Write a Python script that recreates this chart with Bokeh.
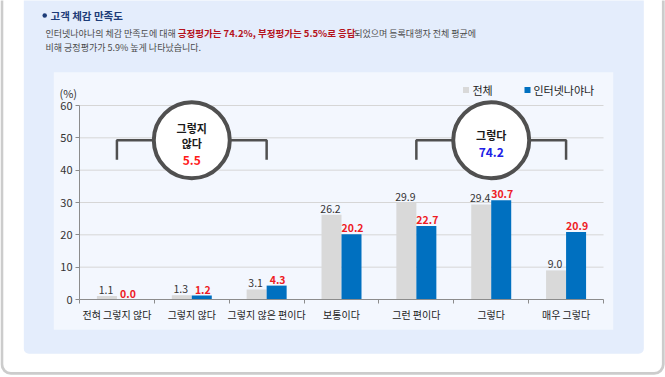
from bokeh.plotting import figure
from bokeh.models import Range1d, LinearAxis, FixedTicker, BoxAnnotation
from bokeh.core.properties import value
from bokeh.embed import file_html
from bokeh.resources import INLINE

# ---------------- data ----------------
categories = ["전혀 그렇지 않다", "그렇지 않다", "그렇지 않은 편이다", "보통이다",
              "그런 편이다", "그렇다", "매우 그렇다"]
total_values = [1.1, 1.3, 3.1, 26.2, 29.9, 29.4, 9.0]       # 전체
company_values = [0.0, 1.2, 4.3, 20.2, 22.7, 30.7, 20.9]    # 인터넷나야나
series_names = ["전체", "인터넷나야나"]
y_ticks = [0, 10, 20, 30, 40, 50, 60]
group_labels = ["그렇지\n않다", "그렇다"]
group_members = [[0, 1, 2], [4, 5, 6]]
group_totals = [5.5, 74.2]

title_text = "고객 체감 만족도"
line1_parts = ["인터넷나야나의 체감 만족도에 대해 ",
               "긍정평가는 74.2%, 부정평가는 5.5%로 응답",
               "되었으며 등록대행자 전체 평균에"]
line2_text = "비해 긍정평가가 5.9% 높게 나타났습니다."

# ---------------- layout constants (reference pixels) ----------------
FONT = "Noto Sans CJK KR"
W, H = 665, 377
OFF = 0
X0_PX, X7_PX = 79.0, 603.0
Y0_PX, Y60_PX = 299.0, 105.0
n = len(categories)
XS = (X7_PX - X0_PX) / n
YS = (Y0_PX - Y60_PX) / 60.0


def dx(px):
    return (px - X0_PX) / XS


def dy(py):
    return (Y0_PX - py) / YS


def est_width(s, size, bold=False):
    w = 0.0
    for ch in s:
        if "\uac00" <= ch <= "\ud7a3":
            w += 0.92
        elif ch.isdigit():
            w += 0.555
        elif ch in ".,":
            w += 0.27
        elif ch == "%":
            w += 0.87
        elif ch == " ":
            w += 0.224
        else:
            w += 0.55
    return w * size * (1.03 if bold else 1.0)


p = figure(width=W, height=H,
           x_range=Range1d(dx(OFF), dx(OFF + W)),
           y_range=Range1d(dy(OFF + H), dy(OFF)),
           x_axis_type=None, y_axis_type=None,
           output_backend="svg", toolbar_location=None,
           min_border=0, outline_line_color=None,
           background_fill_color="white", border_fill_color="white")

# background panels
p.add_layout(BoxAnnotation(left=dx(23.3), right=dx(643.3), top=dy(-30), bottom=dy(353.3),
                           fill_color="#e4edfc", fill_alpha=1, line_color=None,
                           border_radius=5, level="underlay"))
p.add_layout(BoxAnnotation(left=dx(53.3), right=dx(612.7), top=dy(71.7), bottom=dy(329.3),
                           fill_color="#f3f7fe", fill_alpha=1, line_color=None,
                           level="underlay"))
p.add_layout(BoxAnnotation(left=dx(1.4), right=dx(662.8), top=dy(-30),
                           bottom=dy(372.8), fill_color=None,
                           line_color="#555555", line_width=2.8, border_radius=9,
                           level="underlay"))

# grid lines
grid_vals = y_ticks[1:]
p.segment(x0=[0] * len(grid_vals), x1=[n] * len(grid_vals), y0=grid_vals, y1=grid_vals,
          line_color="#d6d6d6", line_width=1)

# bars
centers = [i + 0.5 for i in range(n)]
BW = 20.0 / XS
gx = [c - BW / 2 for c in centers]
bx = [c + BW / 2 for c in centers]
p.vbar(x=gx, top=total_values, width=BW, fill_color="#d9d9d9", line_color=None)
p.vbar(x=bx, top=company_values, width=BW, fill_color="#0070c0", line_color=None)

p.text(x=gx, y=total_values, text=[f"{v:.1f}" for v in total_values],
       text_align="center", text_baseline="bottom", y_offset=-2, x_offset=-1,
       text_font=value(FONT), text_font_size="10.5px", text_color="#333333")
p.text(x=bx, y=company_values, text=[f"{v:.1f}" for v in company_values],
       text_align="center", text_baseline="bottom", y_offset=-2, x_offset=1,
       text_font=value(FONT), text_font_size="10.5px", text_font_style="bold",
       text_color="#ee1c25")

# axes
yaxis = LinearAxis(fixed_location=0, bounds=(y_ticks[0], y_ticks[-1]),
                   ticker=FixedTicker(ticks=y_ticks, minor_ticks=[]),
                   axis_line_color="#8c8c8c", major_tick_line_color="#8c8c8c",
                   major_tick_out=4, major_tick_in=0, minor_tick_out=0, minor_tick_in=0,
                   major_label_standoff=3, major_label_text_font=FONT,
                   major_label_text_font_size="11px", major_label_text_color="#333333")
p.add_layout(yaxis, "left")

xaxis = LinearAxis(fixed_location=0, bounds=(0, n),
                   ticker=FixedTicker(ticks=centers, minor_ticks=list(range(n + 1))),
                   axis_line_color="#8c8c8c", major_tick_out=0, major_tick_in=0,
                   minor_tick_line_color="#8c8c8c", minor_tick_out=4, minor_tick_in=0,
                   major_label_overrides={c: cat for c, cat in zip(centers, categories)},
                   major_label_standoff=3, major_label_text_font=FONT,
                   major_label_text_font_size="10px", major_label_text_color="#222222")
p.add_layout(xaxis, "below")

# group brackets + circles
circle_cy = dy(139.7)
bracket_bottom = dy(159.3)
gcx = []
for members in group_members:
    a, b = centers[members[0]], centers[members[-1]]
    gcx.append(sum(centers[m] for m in members) / len(members))
    p.line(x=[a, a, b, b], y=[bracket_bottom, circle_cy, circle_cy, bracket_bottom],
           line_color="#505050", line_width=2.5)
p.scatter(x=gcx, y=[circle_cy] * len(gcx), marker="circle", size=76,
          fill_color="white", line_color="#505050", line_width=4)

total_colors = ["#ff1a1a", "#2020e6"]
C_PX = 143.6
for g, label in enumerate(group_labels):
    lines = label.split("\n")
    span = (len(lines) - 1) * 15 + 17.5
    first = C_PX - span / 2
    for k, ln in enumerate(lines):
        p.text(x=[gcx[g]], y=[dy(first + 15 * k)], text=[ln], text_align="center",
               text_baseline="middle", text_font=value(FONT), text_font_size="11px",
               text_font_style="bold", text_color="#1a1a1a")
    p.text(x=[gcx[g]], y=[dy(first + span)], text=[f"{group_totals[g]:.1f}"],
           text_align="center", text_baseline="middle", text_font=value(FONT),
           text_font_size="12px", text_font_style="bold", text_color=total_colors[g])

# legend (manual)
p.scatter(x=[dx(465.5), dx(527)], y=[dy(89.5)] * 2, marker="square", size=6,
          fill_color=["#d9d9d9", "#0070c0"], line_color=None)
p.text(x=[dx(472), dx(533)], y=[dy(89.5)] * 2, text=series_names, text_align="left",
       text_baseline="middle", text_font=value(FONT), text_font_size="11px",
       text_color="#222222")

# unit label
p.text(x=[dx(59)], y=[dy(92)], text=["(%)"], text_align="left", text_baseline="middle",
       text_font=value(FONT), text_font_size="11px", text_color="#333333")

# header
p.scatter(x=[dx(44.2)], y=[dy(15)], marker="circle", size=4.5,
          fill_color="#1d3c78", line_color=None)
p.text(x=[dx(50)], y=[dy(14.5)], text=[title_text], text_align="left",
       text_baseline="middle", text_font=value(FONT), text_font_size="10.5px",
       text_font_style="bold", text_color="#1d3c78")

styles = [("normal", "#4a4a4a", 9), ("bold", "#b5121b", 9.5), ("normal", "#4a4a4a", 9)]
xpos = 45.0
for part, (fs, col, size) in zip(line1_parts, styles):
    p.text(x=[dx(xpos)], y=[dy(32.8)], text=[part], text_align="left",
           text_baseline="middle", text_font=value(FONT), text_font_size=f"{size}px",
           text_font_style=fs, text_color=col)
    xpos += est_width(part, size, fs == "bold") + (-1.5 if fs == "bold" else 0)
p.text(x=[dx(45)], y=[dy(46.5)], text=[line2_text], text_align="left",
       text_baseline="middle", text_font=value(FONT), text_font_size="9px",
       text_color="#4a4a4a")

open("out.html", "w").write(file_html(p, INLINE))
